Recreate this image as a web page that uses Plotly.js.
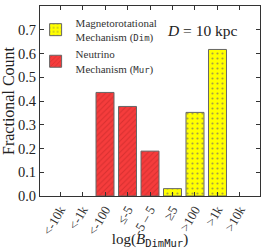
<!DOCTYPE html>
<html><head><meta charset="utf-8">
<script src="https://cdn.plot.ly/plotly-3.0.1.min.js"></script>
<style>body{margin:0;background:#fff}#c{width:266px;height:249px}</style>
</head><body><div id="c"></div>
<script>
const categories = ["<-10k","<-1k","<-100","≤-5","-5 – 5","≥5",">100",">1k",">10k"];
const murValues = [null, null, 0.436, 0.377, 0.189, null, null, null, null];
const dimValues = [null, null, null, null, null, 0.031, 0.352, 0.617, null];
const yTicks = [0, 0.1, 0.2, 0.3, 0.4, 0.5, 0.6, 0.7, 0.8];
const yTickLabels = ["0.0","0.1","0.2","0.3","0.4","0.5","0.6","0.7","0.8"];

const serif = "Liberation Serif, DejaVu Serif, serif";
const mono = "DejaVu Sans Mono, Liberation Mono, monospace";

const traces = [
  {type:'bar', x:categories, y:dimValues, width:0.8,
   name:'Magnetorotational<br>Mechanism (<span style="font-family:'+mono+';font-size:9px">Dim</span>)',
   marker:{color:'#ffff00', line:{color:'#666', width:1},
     pattern:{shape:'.', bgcolor:'#ffff00', fgcolor:'#a8a040', size:5, solidity:0.15, fillmode:'replace'}}},
  {type:'bar', x:categories, y:murValues, width:0.8,
   name:'Neutrino<br>Mechanism (<span style="font-family:'+mono+';font-size:9px">Mur</span>)',
   marker:{color:'#f53c3c', line:{color:'#666', width:1},
     pattern:{shape:'/', bgcolor:'#f53c3c', fgcolor:'#d83030', size:4, solidity:0.25, fillmode:'replace'}}}
];

const layout = {
  width:266, height:249,
  margin:{l:40, r:6, t:6, b:53},
  paper_bgcolor:'#fff', plot_bgcolor:'#fff',
  barmode:'overlay',
  showlegend:true,
  font:{family:serif, color:'#222', size:12},
  legend:{x:-0.02, y:0.985, xanchor:'left', yanchor:'top', bgcolor:'rgba(0,0,0,0)',
    font:{family:serif, size:11, color:'#333'}, tracegroupgap:0, itemwidth:30},
  xaxis:{type:'category', range:[-0.89, 8.89], tickvals:categories, ticktext:categories,
    tickangle:-60, ticks:'inside', ticklen:4, tickcolor:'#333', mirror:'ticks',
    showline:true, linecolor:'#333', linewidth:1, showgrid:false, zeroline:false,
    tickfont:{family:serif, size:13, color:'#333'},
    title:{text:'log(<i>B</i><sub><span style="font-family:'+mono+'">DimMur</span></sub>)', font:{family:serif, size:15, color:'#222'}, standoff:0}},
  yaxis:{range:[0, 0.8], tickvals:yTicks, ticktext:yTickLabels,
    ticks:'inside', ticklen:4, tickcolor:'#333', mirror:'ticks',
    showline:true, linecolor:'#333', linewidth:1, showgrid:false, zeroline:false,
    tickfont:{family:serif, size:14.5, color:'#222'},
    title:{text:'Fractional Count', font:{family:serif, size:16, color:'#222'}, standoff:3}},
  annotations:[{xref:'paper', yref:'paper', x:0.74, y:0.87, xanchor:'center', yanchor:'middle',
    text:'<i>D</i> = 10 kpc', showarrow:false, font:{family:serif, size:15.5, color:'#222'}}]
};
Plotly.newPlot('c', traces, layout, {staticPlot:true, displayModeBar:false});
</script></body></html>
